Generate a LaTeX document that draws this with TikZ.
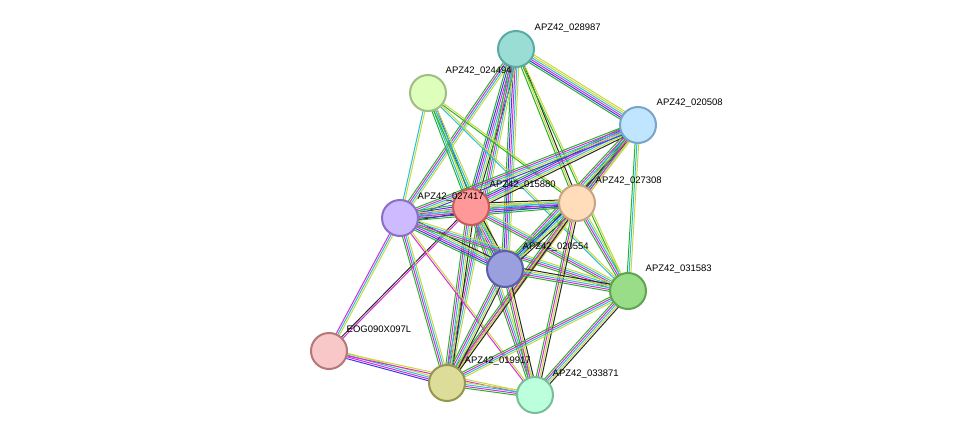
\documentclass[tikz,border=0pt]{standalone}
\usepackage{fontspec}
\setmainfont{Liberation Sans}
\usetikzlibrary{calc,backgrounds}
\definecolor{cgreen}{RGB}{40,180,40}
\definecolor{cblue}{RGB}{60,60,230}
\definecolor{cmag}{RGB}{220,40,220}
\definecolor{ccyan}{RGB}{40,190,220}
\definecolor{ctm}{RGB}{200,215,60}
\definecolor{cblack}{RGB}{40,40,40}
\newcommand\sedge[4]{%
  \foreach \c [count=\i] in {#4} {%
    \pgfmathsetmacro\o{(\i-(#3+1)/2)*1.8}%
    \draw[\c, line width=1pt] ($(#1)!\o pt!90:(#2)$) -- ($(#2)!\o pt!-90:(#1)$);}}
\tikzset{prot/.style={circle, minimum size=36pt, line width=2pt, inner sep=0pt},
  lab/.style={anchor=west, font=\fontsize{9.5}{10}\selectfont, inner sep=0.5pt}}
\begin{document}
\begin{tikzpicture}[x=1pt,y=-1pt]
\useasboundingbox (0,0) rectangle (975,441);
\node[prot, fill={rgb,255:red,153;green,221;blue,213}, draw={rgb,255:red,90;green,170;blue,165}] (a) at (516,49) {};
\node[prot, fill={rgb,255:red,221;green,255;blue,187}, draw={rgb,255:red,160;green,190;blue,130}] (b) at (428,93) {};
\node[prot, fill={rgb,255:red,192;green,230;blue,255}, draw={rgb,255:red,120;green,165;blue,200}] (c) at (638,125) {};
\node[prot, fill={rgb,255:red,255;green,153;blue,153}, draw={rgb,255:red,200;green,90;blue,90}] (d) at (471,207) {};
\node[prot, fill={rgb,255:red,204;green,187;blue,255}, draw={rgb,255:red,140;green,110;blue,200}] (e) at (400,218) {};
\node[prot, fill={rgb,255:red,255;green,221;blue,187}, draw={rgb,255:red,200;green,165;blue,130}] (f) at (577,203) {};
\node[prot, fill={rgb,255:red,153;green,160;blue,221}, draw={rgb,255:red,90;green,95;blue,170}] (g) at (505,269) {};
\node[prot, fill={rgb,255:red,153;green,221;blue,136}, draw={rgb,255:red,95;green,165;blue,80}] (h) at (628,291) {};
\node[prot, fill={rgb,255:red,248;green,200;blue,200}, draw={rgb,255:red,180;green,120;blue,120}] (i) at (329,351) {};
\node[prot, fill={rgb,255:red,221;green,221;blue,153}, draw={rgb,255:red,150;green,150;blue,80}] (j) at (447,383) {};
\node[prot, fill={rgb,255:red,187;green,255;blue,221}, draw={rgb,255:red,120;green,190;blue,150}] (k) at (535,395) {};
\begin{pgfonlayer}{background}
\sedge{a}{c}{6}{cgreen,cblue,cmag,ccyan,ctm,ctm}
\sedge{a}{d}{6}{cgreen,cblue,cmag,ccyan,ctm,cblack}
\sedge{a}{e}{4}{cgreen,cmag,ccyan,ctm}
\sedge{a}{f}{3}{cgreen,ctm,cblack}
\sedge{a}{g}{5}{cgreen,cblue,cmag,ccyan,ctm}
\sedge{a}{j}{4}{cgreen,cmag,ccyan,ctm}
\sedge{a}{h}{2}{cgreen,ctm}
\sedge{b}{d}{4}{cgreen,ccyan,ctm,cblue}
\sedge{b}{e}{2}{ccyan,ctm}
\sedge{b}{g}{3}{cgreen,ccyan,ctm}
\sedge{b}{f}{2}{cgreen,ctm}
\sedge{b}{h}{2}{ccyan,ctm}
\sedge{c}{d}{6}{cgreen,cblue,cmag,ccyan,ctm,cblack}
\sedge{c}{e}{5}{cgreen,cmag,ccyan,ctm,cblue}
\sedge{c}{f}{5}{cgreen,cblue,cmag,ccyan,ctm}
\sedge{c}{g}{5}{cgreen,cmag,ccyan,ctm,cblack}
\sedge{c}{h}{3}{cgreen,ccyan,ctm}
\sedge{c}{j}{3}{cgreen,cmag,ctm}
\sedge{d}{e}{6}{cgreen,cblue,cmag,ccyan,ctm,cblack}
\sedge{d}{f}{5}{cgreen,cblue,ccyan,ctm,cblack}
\sedge{d}{g}{6}{cgreen,cblue,cmag,ccyan,ctm,cblack}
\sedge{d}{h}{4}{cgreen,cmag,ccyan,ctm}
\sedge{d}{j}{5}{cgreen,cmag,ccyan,ctm,cblack}
\sedge{d}{k}{4}{cgreen,cmag,ccyan,ctm}
\sedge{d}{i}{2}{cblack,cmag}
\sedge{e}{f}{5}{cgreen,cblue,cmag,ccyan,ctm}
\sedge{e}{g}{6}{cgreen,cblue,cmag,ccyan,ctm,cblack}
\sedge{e}{h}{4}{cgreen,cmag,ccyan,ctm}
\sedge{e}{j}{4}{cgreen,cmag,ccyan,ctm}
\sedge{e}{k}{2}{cmag,ctm}
\sedge{e}{i}{3}{cmag,ccyan,ctm}
\sedge{f}{g}{5}{cgreen,cblue,ccyan,ctm,cblack}
\sedge{f}{h}{4}{cgreen,cmag,ccyan,ctm}
\sedge{f}{j}{4}{cgreen,cmag,ctm,cblack}
\sedge{f}{k}{4}{cgreen,cmag,ctm,cblack}
\sedge{g}{h}{5}{cgreen,cmag,ccyan,ctm,cblack}
\sedge{g}{j}{5}{cgreen,cmag,ccyan,ctm,cblack}
\sedge{g}{k}{4}{cgreen,cmag,ctm,cblack}
\sedge{h}{j}{4}{cgreen,cmag,ccyan,ctm}
\sedge{h}{k}{5}{cgreen,cmag,ccyan,ctm,cblack}
\sedge{i}{j}{4}{cblue,cmag,ccyan,ctm}
\sedge{i}{k}{2}{cmag,ctm}
\sedge{j}{k}{4}{cgreen,cmag,ccyan,ctm}
\end{pgfonlayer}
\node[lab] (la) at (534,28) {APZ42\_028987};
\node[lab] (lb) at (445,71) {APZ42\_024494};
\node[lab] (lc) at (656,103) {APZ42\_020508};
\node[lab] (ld) at (489,185) {APZ42\_015880};
\node[lab] (le) at (417,197) {APZ42\_027417};
\node[lab] (lf) at (595,181) {APZ42\_027308};
\node[lab] (lg) at (522,247) {APZ42\_020554};
\node[lab] (lh) at (645,269) {APZ42\_031583};
\node[lab] (li) at (346,329) {EOG090X097L};
\node[lab] (lj) at (464,361) {APZ42\_019917};
\node[lab] (lk) at (552,374) {APZ42\_033871};
\end{tikzpicture}
\end{document}
